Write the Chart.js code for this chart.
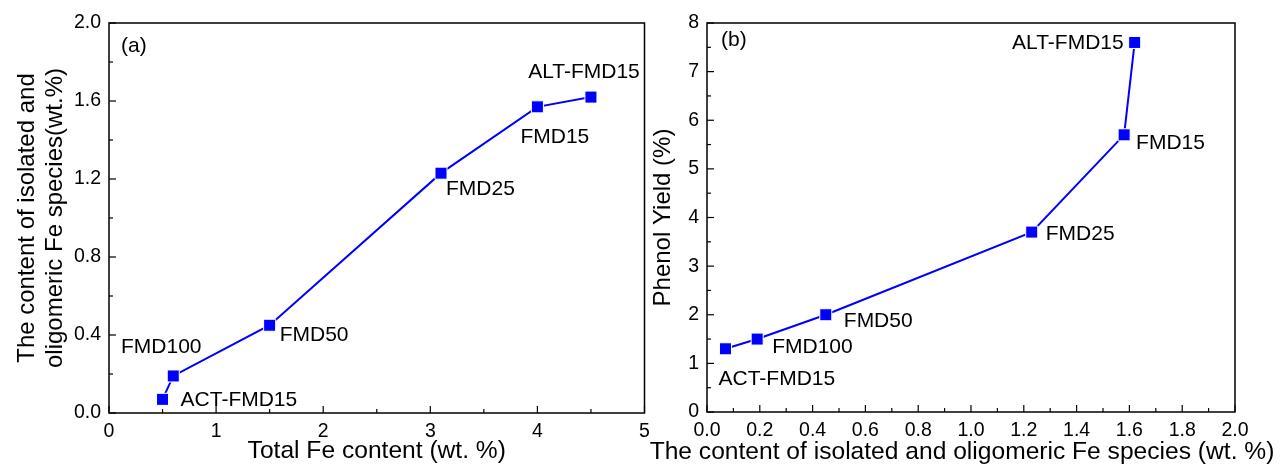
<!DOCTYPE html>
<html lang="en">
<head>
<meta charset="UTF-8">
<title>Fe species and phenol yield</title>
<script src="https://cdn.jsdelivr.net/npm/chart.js"></script>
<style>
    body { margin: 0; background: #fff; width: 1287px; height: 466px; position: relative; overflow: hidden; }
    .box { position: absolute; top: 0; height: 466px; }
</style>
</head>
<body>
<div class="box" style="left:0; width:654px;"><canvas id="chartA" width="654" height="466"></canvas></div>
<div class="box" style="left:645px; width:642px;"><canvas id="chartB" width="642" height="466"></canvas></div>
<script>
    // data
    const samples = ['ACT-FMD15', 'FMD100', 'FMD50', 'FMD25', 'FMD15', 'ALT-FMD15'];
    const totalFe = [0.5, 0.6, 1.5, 3.1, 4.0, 4.5];
    const isolatedFeA = [0.07, 0.19, 0.45, 1.23, 1.57, 1.62];
    const isolatedFeB = [0.07, 0.19, 0.45, 1.23, 1.58, 1.62];
    const phenolYield = [1.3, 1.5, 2.0, 3.7, 5.7, 7.6];

    // tick labels
    const ticksAX = [0, 1, 2, 3, 4, 5];
    const ticksAY = [0.0, 0.4, 0.8, 1.2, 1.6, 2.0];
    const ticksBX = [0.0, 0.2, 0.4, 0.6, 0.8, 1.0, 1.2, 1.4, 1.6, 1.8, 2.0];
    const ticksBY = [0, 1, 2, 3, 4, 5, 6, 7, 8];

    // label placement next to each point: [dx, dy, align]
    const offsetsA = [[18, 1, 'left'], [-12, -29, 'center'], [10, 10, 'left'], [5, 16, 'left'], [-17, 30, 'left'], [-7, -25, 'center']];
    const offsetsB = [[-7, 30, 'left'], [15, 8, 'left'], [18, 6, 'left'], [14, 2, 'left'], [12, 8, 'left'], [-11, 1, 'right']];

    const FAMILY = '"Liberation Sans", Arial, sans-serif';
    const BLUE = '#0000ff';

    // box frame + inward major/minor ticks
    const framePlugin = {
        id: 'frame',
        beforeDatasetsDraw(chart) {
            const c = chart.ctx, a = chart.chartArea;
            const fr = chart.config.options.plugins.frame;
            c.save();
            c.strokeStyle = '#000';
            c.lineWidth = 1.5;
            c.strokeRect(a.left, a.top, a.right - a.left, a.bottom - a.top);
            c.lineWidth = 1.2;
            const xs = chart.scales.x, ys = chart.scales.y;
            const n = Math.round((xs.max - xs.min) / fr.minorX);
            for (let i = 0; i <= n; i++) {
                const v = xs.min + i * fr.minorX;
                const major = i % fr.everyX === 0;
                const px = xs.getPixelForValue(v);
                c.beginPath();
                c.moveTo(px, a.bottom);
                c.lineTo(px, a.bottom - (major ? 7 : 4));
                c.stroke();
            }
            const m = Math.round((ys.max - ys.min) / fr.minorY);
            for (let i = 0; i <= m; i++) {
                const v = ys.min + i * fr.minorY;
                const major = i % fr.everyY === 0;
                const py = ys.getPixelForValue(v);
                c.beginPath();
                c.moveTo(a.left, py);
                c.lineTo(a.left + (major ? 7 : 4), py);
                c.stroke();
            }
            c.restore();
        }
    };

    // sample names, panel letter and (for b) the wide x title
    const labelPlugin = {
        id: 'pointLabels',
        afterDatasetsDraw(chart) {
            const c = chart.ctx, a = chart.chartArea;
            const o = chart.config.options.plugins.pointLabels;
            const meta = chart.getDatasetMeta(0);
            c.save();
            c.fillStyle = '#000';
            c.textBaseline = 'middle';
            c.font = '21px ' + FAMILY;
            meta.data.forEach((pt, i) => {
                const off = o.offsets[i];
                c.textAlign = off[2];
                c.fillText(samples[i], pt.x + off[0], pt.y + off[1]);
            });
            c.textAlign = 'left';
            c.fillText(o.panel, a.left + o.panelAt[0], a.top + o.panelAt[1]);
            if (o.xTitle) {
                c.font = '24.6px ' + FAMILY;
                c.textAlign = 'center';
                c.fillText(o.xTitle, (a.left + a.right) / 2 + o.xTitleShift, chart.height - 14);
            }
            c.restore();
        }
    };

    function makeChart(id, xs, ys, cfg) {
        const points = xs.map((x, i) => ({ x: x, y: ys[i] }));
        return new Chart(document.getElementById(id), {
            type: 'line',
            data: {
                datasets: [{
                    data: points,
                    borderColor: BLUE,
                    borderWidth: 2,
                    pointStyle: 'rect',
                    pointRadius: 8.5,
                    pointBackgroundColor: BLUE,
                    pointBorderColor: '#fff',
                    pointBorderWidth: 1,
                    tension: 0
                }]
            },
            options: {
                responsive: false,
                animation: false,
                devicePixelRatio: 1,
                layout: { padding: cfg.padding },
                scales: {
                    x: {
                        type: 'linear',
                        min: cfg.xTicks[0], max: cfg.xTicks[cfg.xTicks.length - 1],
                        grid: { display: false, drawTicks: false },
                        border: { display: false },
                        afterBuildTicks: s => { s.ticks = cfg.xTicks.map(v => ({ value: v })); },
                        afterFit: s => { s.height = cfg.xHeight; s.paddingLeft = 0; s.paddingRight = 0; },
                        ticks: {
                            color: '#000', padding: 7, maxRotation: 0,
                            font: { family: FAMILY, size: 19.5 },
                            callback: v => v.toFixed(cfg.xDigits)
                        },
                        title: {
                            display: !cfg.drawXTitle, text: cfg.xTitle, color: '#000', padding: 0,
                            font: { family: FAMILY, size: 24.6, lineHeight: 1.2 }
                        }
                    },
                    y: {
                        type: 'linear',
                        min: cfg.yTicks[0], max: cfg.yTicks[cfg.yTicks.length - 1],
                        grid: { display: false, drawTicks: false },
                        border: { display: false },
                        afterBuildTicks: s => { s.ticks = cfg.yTicks.map(v => ({ value: v })); },
                        afterFit: s => { s.width = cfg.yWidth; },
                        ticks: {
                            color: '#000', padding: 8,
                            font: { family: FAMILY, size: 19.5 },
                            callback: v => v.toFixed(cfg.yDigits)
                        },
                        title: {
                            display: true, text: cfg.yTitle, color: '#000',
                            padding: { top: cfg.yTitlePad, bottom: 0 },
                            font: { family: FAMILY, size: 24, lineHeight: 1.17 }
                        }
                    }
                },
                plugins: {
                    legend: { display: false },
                    tooltip: { enabled: false },
                    frame: cfg.frame,
                    pointLabels: {
                        offsets: cfg.offsets, panel: cfg.panel, panelAt: cfg.panelAt,
                        xTitle: cfg.drawXTitle ? cfg.xTitle : null, xTitleShift: -9
                    }
                }
            },
            plugins: [framePlugin, labelPlugin]
        });
    }

    makeChart('chartA', totalFe, isolatedFeA, {
        padding: { left: 0, top: 23, right: 3, bottom: 0 },
        xTicks: ticksAX, yTicks: ticksAY, xDigits: 0, yDigits: 1,
        xHeight: 53, yWidth: 109, yTitlePad: 13,
        xTitle: 'Total Fe content (wt. %)', drawXTitle: false,
        yTitle: ['The content of isolated and', 'oligomeric Fe species(wt.%)'],
        frame: { minorX: 0.5, everyX: 2, minorY: 0.2, everyY: 2 },
        offsets: offsetsA, panel: '(a)', panelAt: [12, 23]
    });

    makeChart('chartB', isolatedFeB, phenolYield, {
        padding: { left: 0, top: 23, right: 52, bottom: 0 },
        xTicks: ticksBX, yTicks: ticksBY, xDigits: 1, yDigits: 0,
        xHeight: 54, yWidth: 62, yTitlePad: 4,
        xTitle: 'The content of isolated and oligomeric Fe species (wt. %)', drawXTitle: true,
        yTitle: 'Phenol Yield (%)',
        frame: { minorX: 0.1, everyX: 2, minorY: 0.5, everyY: 2 },
        offsets: offsetsB, panel: '(b)', panelAt: [14, 17]
    });
</script>
</body>
</html>
